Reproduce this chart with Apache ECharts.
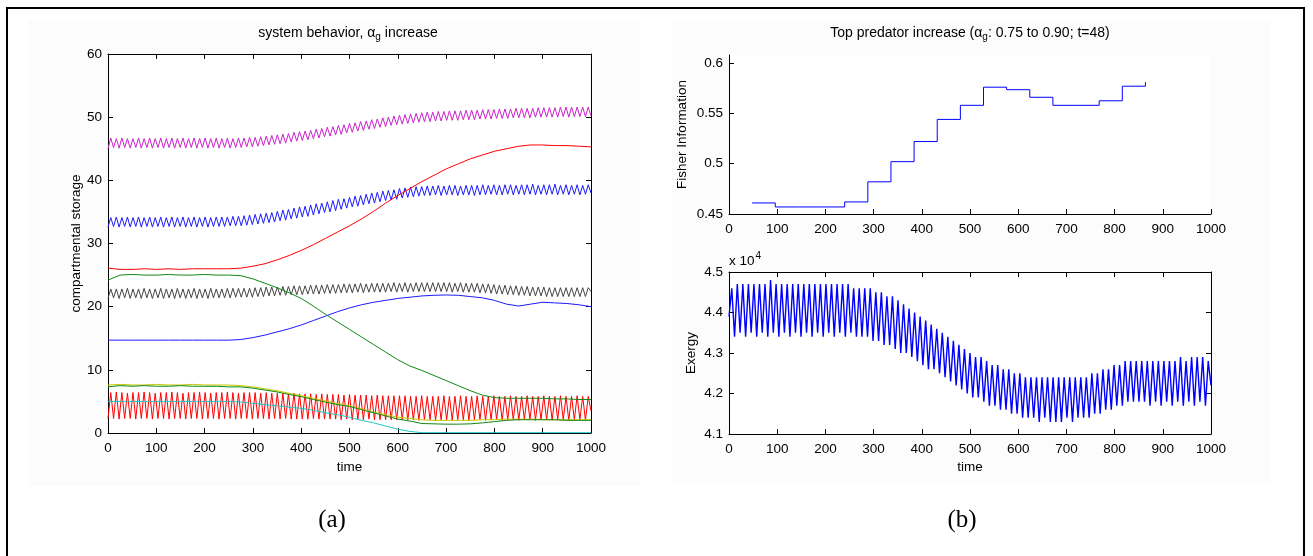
<!DOCTYPE html>
<html>
<head>
<meta charset="utf-8">
<script src="https://cdn.jsdelivr.net/npm/echarts/dist/echarts.min.js"></script>
<style>
  html, body { margin: 0; padding: 0; background: #fff; }
  #main { width: 1313px; height: 556px; }
</style>
</head>
<body>
<div id="main"></div>
<script>
// oscillating series: one value per half cycle, t = i * OSC_STEP (0..1000)
var OSC_STEP = 1000 / 174;

var magenta = [
  45.0,46.7,45.2,46.6,45.1,46.7,45.2,46.6,45.1,46.6,
  45.2,46.7,45.1,46.6,45.2,46.7,45.1,46.6,45.2,46.7,
  45.1,46.6,45.2,46.7,45.1,46.6,45.2,46.7,45.1,46.6,
  45.2,46.7,45.1,46.6,45.2,46.7,45.1,46.6,45.2,46.7,
  45.1,46.6,45.2,46.7,45.1,46.6,45.2,46.7,45.2,46.7,
  45.3,46.8,45.3,46.8,45.4,46.9,45.5,47.0,45.6,47.1,
  45.7,47.2,45.8,47.3,45.9,47.4,46.1,47.6,46.2,47.7,
  46.3,47.8,46.4,47.9,46.6,48.1,46.7,48.2,46.9,48.4,
  47.0,48.5,47.2,48.7,47.3,48.8,47.5,49.0,47.6,49.1,
  47.8,49.3,47.9,49.4,48.1,49.6,48.2,49.7,48.4,49.9,
  48.5,50.0,48.7,50.2,48.8,50.3,48.9,50.4,49.0,50.5,
  49.1,50.6,49.2,50.7,49.3,50.8,49.3,50.8,49.4,50.9,
  49.4,50.9,49.5,51.0,49.5,51.0,49.5,51.0,49.6,51.1,
  49.6,51.1,49.6,51.1,49.7,51.2,49.7,51.2,49.7,51.2,
  49.8,51.3,49.8,51.3,49.8,51.3,49.9,51.4,49.9,51.4,
  49.9,51.4,49.9,51.4,50.0,51.5,50.0,51.5,50.0,51.5,
  50.0,51.5,50.0,51.6,50.1,51.6,50.0,51.6,50.1,51.6,
  50.1,51.6,50.1,51.6,50.2
];

var blueUpper = [
  32.6,34.1,32.7,34.2,32.6,34.1,32.7,34.2,32.6,34.1,
  32.7,34.2,32.6,34.1,32.7,34.2,32.6,34.1,32.7,34.2,
  32.6,34.1,32.7,34.2,32.6,34.1,32.7,34.2,32.6,34.1,
  32.7,34.2,32.6,34.1,32.7,34.2,32.6,34.1,32.7,34.2,
  32.7,34.2,32.7,34.2,32.8,34.3,32.8,34.3,32.8,34.4,
  32.9,34.5,33.0,34.6,33.1,34.7,33.2,34.8,33.3,34.9,
  33.4,35.1,33.6,35.3,33.7,35.4,33.9,35.6,34.0,35.8,
  34.2,35.9,34.3,36.1,34.5,36.3,34.7,36.4,34.9,36.6,
  35.0,36.8,35.2,37.0,35.4,37.1,35.6,37.3,35.8,37.5,
  35.9,37.6,36.1,37.8,36.3,38.0,36.4,38.1,36.6,38.3,
  36.8,38.4,36.9,38.5,37.0,38.7,37.2,38.8,37.3,38.9,
  37.4,39.0,37.5,39.0,37.6,39.1,37.6,39.1,37.7,39.2,
  37.6,39.1,37.7,39.2,37.7,39.2,37.6,39.1,37.7,39.2,
  37.7,39.2,37.6,39.2,37.7,39.3,37.7,39.2,37.8,39.3,
  37.7,39.2,37.7,39.3,37.8,39.3,37.7,39.2,37.8,39.3,
  37.7,39.3,37.8,39.4,37.7,39.2,37.8,39.3,37.7,39.3,
  37.8,39.4,37.7,39.2,37.8,39.3,37.7,39.2,37.8,39.3,
  37.7,39.2,37.8,39.3,38.0
];

var grayLine = [
  21.3,22.8,21.4,22.8,21.3,22.8,21.4,22.9,21.3,22.8,
  21.4,22.8,21.3,22.9,21.4,22.8,21.3,22.8,21.4,22.9,
  21.3,22.8,21.4,22.8,21.3,22.9,21.4,22.8,21.3,22.8,
  21.4,22.9,21.3,22.8,21.4,22.8,21.3,22.9,21.4,22.8,
  21.4,22.8,21.4,22.9,21.4,22.9,21.5,22.9,21.5,22.9,
  21.5,22.9,21.5,23.0,21.6,23.0,21.6,23.1,21.7,23.1,
  21.7,23.1,21.8,23.2,21.8,23.2,21.9,23.3,21.9,23.3,
  21.9,23.3,22.0,23.4,22.0,23.4,22.0,23.4,22.1,23.5,
  22.1,23.5,22.1,23.5,22.2,23.6,22.2,23.6,22.2,23.6,
  22.3,23.7,22.2,23.6,22.3,23.7,22.3,23.7,22.3,23.7,
  22.3,23.7,22.4,23.8,22.3,23.7,22.4,23.8,22.3,23.7,
  22.4,23.8,22.4,23.8,22.4,23.8,22.4,23.8,22.4,23.8,
  22.4,23.8,22.4,23.8,22.3,23.7,22.4,23.8,22.3,23.7,
  22.3,23.7,22.3,23.7,22.2,23.6,22.2,23.6,22.1,23.5,
  22.0,23.4,22.0,23.4,21.9,23.3,21.9,23.3,21.8,23.2,
  21.8,23.2,21.7,23.1,21.7,23.1,21.7,23.1,21.6,23.0,
  21.6,23.0,21.6,23.0,21.6,23.0,21.6,23.0,21.6,23.0,
  21.6,23.0,21.6,23.0,22.4
];

var redLower = [
  2.3,6.4,2.3,6.5,2.2,6.4,2.3,6.3,2.3,6.4,
  2.2,6.4,2.3,6.5,2.3,6.4,2.2,6.3,2.3,6.4,
  2.3,6.4,2.2,6.5,2.3,6.4,2.3,6.3,2.2,6.4,
  2.3,6.4,2.3,6.5,2.2,6.4,2.3,6.3,2.3,6.4,
  2.2,6.4,2.3,6.5,2.3,6.4,2.2,6.3,2.3,6.4,
  2.3,6.4,2.2,6.4,2.3,6.3,2.3,6.4,2.2,6.3,
  2.3,6.3,2.2,6.3,2.3,6.2,2.2,6.3,2.2,6.2,
  2.2,6.2,2.2,6.2,2.3,6.1,2.2,6.2,2.2,6.1,
  2.2,6.1,2.2,6.1,2.1,6.0,2.2,6.1,2.1,6.0,
  2.2,6.0,2.1,6.0,2.2,5.9,2.1,6.0,2.1,5.9,
  2.1,5.9,2.1,5.9,2.1,5.9,2.1,5.9,2.1,5.8,
  2.1,5.8,2.0,5.9,2.1,5.8,2.1,5.8,2.0,5.8,
  2.1,5.9,2.1,5.8,2.0,5.8,2.1,5.9,2.1,5.8,
  2.0,5.8,2.1,5.9,2.1,5.8,2.0,5.8,2.1,5.9,
  2.1,5.8,2.0,5.8,2.1,5.9,2.1,5.8,2.0,5.8,
  2.1,5.9,2.1,5.8,2.0,5.8,2.1,5.9,2.1,5.8,
  2.0,5.8,2.1,5.9,2.1,5.8,2.0,5.8,2.1,5.9,
  2.1,5.8,2.0,5.8,3.5
];

// exergy in units of 1e4
var exergy = [
  4.39,4.46,4.34,4.47,4.35,4.47,4.34,4.47,4.35,4.47,
  4.34,4.47,4.35,4.47,4.34,4.48,4.35,4.47,4.34,4.47,
  4.35,4.47,4.34,4.47,4.35,4.47,4.34,4.47,4.35,4.47,
  4.34,4.47,4.35,4.47,4.34,4.47,4.35,4.47,4.34,4.47,
  4.35,4.47,4.34,4.47,4.35,4.46,4.34,4.46,4.34,4.46,
  4.34,4.46,4.33,4.45,4.33,4.45,4.32,4.44,4.32,4.44,
  4.31,4.43,4.30,4.42,4.30,4.41,4.29,4.40,4.28,4.39,
  4.27,4.38,4.26,4.37,4.26,4.36,4.25,4.35,4.24,4.34,
  4.23,4.33,4.22,4.32,4.21,4.31,4.20,4.30,4.19,4.29,
  4.19,4.29,4.18,4.28,4.17,4.27,4.17,4.27,4.16,4.26,
  4.16,4.26,4.15,4.25,4.15,4.25,4.14,4.24,4.14,4.24,
  4.14,4.24,4.13,4.24,4.14,4.24,4.13,4.24,4.13,4.24,
  4.13,4.24,4.14,4.24,4.13,4.24,4.14,4.24,4.14,4.24,
  4.14,4.25,4.15,4.25,4.15,4.26,4.16,4.26,4.16,4.27,
  4.17,4.27,4.17,4.28,4.18,4.28,4.18,4.28,4.18,4.28,
  4.18,4.28,4.17,4.28,4.18,4.28,4.17,4.28,4.18,4.28,
  4.17,4.28,4.18,4.29,4.17,4.28,4.18,4.29,4.17,4.29,
  4.18,4.29,4.17,4.28,4.22
];

// smooth series: one value every 25 time units (0..1000)
var SMOOTH_STEP = 25;
var redRising = [26.1,25.9,25.9,26.0,25.9,26.0,25.9,26.0,26.0,26.0,26.0,26.1,26.4,26.8,27.4,28.1,28.9,29.8,30.8,31.8,32.8,
  33.9,35.1,36.4,37.6,38.7,39.8,40.8,41.8,42.6,43.4,44.0,44.6,45.0,45.4,45.6,45.6,45.5,45.5,45.4,45.3];
var blueLower = [14.7,14.7,14.7,14.7,14.7,14.7,14.7,14.7,14.7,14.7,14.7,14.8,15.1,15.5,16.0,16.5,17.1,17.8,18.5,19.2,19.8,
  20.3,20.7,21.0,21.3,21.5,21.7,21.8,21.85,21.8,21.6,21.4,21.0,20.4,20.1,20.4,20.7,20.6,20.5,20.3,20.0];
var greenBig = [24.2,25.0,25.1,25.0,25.0,25.1,25.0,25.0,25.1,25.0,25.0,24.9,24.4,23.7,23.0,22.2,21.3,20.1,18.8,17.6,16.4,
  15.2,14.0,12.8,11.6,10.6,9.9,9.1,8.3,7.5,6.7,6.0,5.6,5.5,5.5,5.5,5.5,5.4,5.4,5.3,5.3];
var greenSmall = [7.3,7.5,7.4,7.5,7.4,7.4,7.5,7.4,7.4,7.4,7.3,7.3,7.1,6.8,6.5,6.1,5.75,5.3,4.9,4.5,4.2,
  3.7,3.2,2.7,2.2,1.9,1.5,1.45,1.4,1.4,1.45,1.6,1.8,2.0,2.1,2.1,2.1,2.1,2.0,2.0,2.0];
var yellowLine = [7.6,7.7,7.6,7.6,7.7,7.6,7.6,7.7,7.6,7.6,7.6,7.5,7.3,7.0,6.7,6.3,5.9,5.5,5.1,4.7,4.3,
  3.8,3.3,2.9,2.5,2.3,2.1,2.0,2.0,2.0,2.0,2.1,2.1,2.2,2.2,2.2,2.1,2.1,2.1,2.1,2.1];
var cyanLine = [5.0,5.0,5.0,5.0,5.0,5.0,5.0,5.0,5.0,5.0,5.0,4.9,4.7,4.5,4.3,4.1,3.9,3.6,3.2,2.9,2.5,
  2.0,1.6,1.1,0.6,0.25,0.05,0.05,0.05,0.05,0.05,0.05,0.05,0.05,0.05,0.05,0.05,0.05,0.05,0.05,0.05];

// Fisher information, window end times (t=48 windows)
var fisherT = [48,96,144,192,240,288,336,384,432,480,528,576,624,672,720,768,816,864];
var fisher = [0.461,0.457,0.457,0.457,0.462,0.482,0.502,0.522,0.544,0.558,0.576,0.5735,0.566,0.558,0.558,0.5625,0.577,0.581];

var FONT = 'Liberation Sans, Arial, Helvetica, sans-serif';

function osc(arr) { return arr.map(function (v, i) { return [i * OSC_STEP, v]; }); }
function smooth(arr) { return arr.map(function (v, i) { return [i * SMOOTH_STEP, v]; }); }

function xAx(grid, pos, labels, name) {
  return {
    type: 'value', gridIndex: grid, position: pos, min: 0, max: 1000, interval: 100,
    axisLine: { show: true, onZero: false, lineStyle: { color: '#000', width: 1 } },
    axisTick: { show: true, inside: true, length: 5, lineStyle: { color: '#000' } },
    axisLabel: { show: labels, margin: 8, color: '#000', fontSize: 13.5, fontFamily: FONT,
      formatter: function (v) { return String(Math.round(v)); } },
    splitLine: { show: false },
    name: name || '', nameLocation: 'middle', nameGap: 26,
    nameTextStyle: { color: '#000', fontSize: 13.5, fontFamily: FONT }
  };
}
function yAx(grid, pos, min, max, step, labels, name, gap) {
  return {
    type: 'value', gridIndex: grid, position: pos, min: min, max: max, interval: step,
    axisLine: { show: true, onZero: false, lineStyle: { color: '#000', width: 1 } },
    axisTick: { show: true, inside: true, length: 5, lineStyle: { color: '#000' } },
    axisLabel: { show: labels, margin: 6, color: '#000', fontSize: 13.5, fontFamily: FONT, showMaxLabel: max !== 0.608 },
    splitLine: { show: false },
    name: name || '', nameLocation: 'middle', nameGap: gap || 30, nameRotate: 90,
    nameTextStyle: { color: '#000', fontSize: 13.5, fontFamily: FONT }
  };
}
function line(data, color, xi, yi, step, width) {
  return {
    type: 'line', data: data, xAxisIndex: xi, yAxisIndex: yi, step: step || false,
    showSymbol: false, symbol: 'none', animation: false, silent: true,
    lineStyle: { color: color, width: width || 1 }, itemStyle: { color: color }
  };
}

var chart = echarts.init(document.getElementById('main'));
chart.setOption({
  animation: false,
  backgroundColor: '#fff',
  grid: [
    { left: 108, top: 54, width: 483, height: 379, show: true, backgroundColor: '#fff', borderWidth: 0, outerBoundsMode: 'none' },
    { left: 729, top: 55, width: 482, height: 159, show: true, backgroundColor: '#fff', borderWidth: 0, outerBoundsMode: 'none' },
    { left: 729, top: 272, width: 482, height: 162, show: true, backgroundColor: '#fff', borderWidth: 0, outerBoundsMode: 'none' }
  ],
  xAxis: [
    xAx(0, 'bottom', true, 'time'),
    xAx(0, 'top', false),
    xAx(1, 'bottom', true),
    xAx(2, 'bottom', true, 'time'),
    xAx(2, 'top', false)
  ],
  yAxis: [
    yAx(0, 'left', 0, 60, 10, true, 'compartmental storage', 25),
    yAx(0, 'right', 0, 60, 10, false),
    yAx(1, 'left', 0.45, 0.608, 0.05, true, 'Fisher Information', 40),
    yAx(2, 'left', 4.1, 4.5, 0.1, true, 'Exergy', 31),
    yAx(2, 'right', 4.1, 4.5, 0.1, false)
  ],
  series: [
    line(osc(redLower), '#ff0000', 0, 0),
    line(osc(magenta), '#cc22cc', 0, 0),
    line(osc(blueUpper), '#1a1aff', 0, 0),
    line(osc(grayLine), '#444444', 0, 0),
    line(smooth(redRising), '#ff0000', 0, 0),
    line(smooth(blueLower), '#1a1aff', 0, 0),
    line(smooth(greenBig), '#118811', 0, 0),
    line(smooth(yellowLine), '#c8c800', 0, 0),
    line(smooth(greenSmall), '#118811', 0, 0),
    line(smooth(cyanLine), '#22c4c4', 0, 0),
    line(fisherT.map(function (t, i) { return [t, fisher[i]]; }), '#0000ff', 2, 2, 'end'),
    line(osc(exergy), '#0000ff', 3, 3, false, 1.4)
  ],
  graphic: [
    { type: 'rect', z: -10, shape: { x: 28, y: 20, width: 612, height: 466 }, style: { fill: '#fcfcfc' } },
    { type: 'rect', z: -10, shape: { x: 672, y: 20, width: 598, height: 463 }, style: { fill: '#fcfcfc' } },
    { type: 'polyline', z: 100, shape: { points: [[7, 600], [7, 8], [1304, 8], [1304, 600]] }, style: { stroke: '#000', lineWidth: 2, fill: null } },
    { type: 'text', z: 100, x: 348, y: 33, style: {
        text: '{n|system behavior, α}{s|g}{n| increase}', align: 'center', verticalAlign: 'middle',
        textAlign: 'center', textVerticalAlign: 'middle',
        rich: { n: { fontSize: 14, fontFamily: FONT, fill: '#000', color: '#000' },
                s: { fontSize: 10, fontFamily: FONT, fill: '#000', color: '#000', padding: [8, 0, 0, 0] } } } },
    { type: 'text', z: 100, x: 970, y: 33, style: {
        text: '{n|Top predator increase (α}{s|g}{n|: 0.75 to 0.90; t=48)}', align: 'center', verticalAlign: 'middle',
        textAlign: 'center', textVerticalAlign: 'middle',
        rich: { n: { fontSize: 14, fontFamily: FONT, fill: '#000', color: '#000' },
                s: { fontSize: 10, fontFamily: FONT, fill: '#000', color: '#000', padding: [8, 0, 0, 0] } } } },
    { type: 'text', z: 100, x: 729, y: 261, style: {
        text: '{n|x 10}{p|4}', align: 'left', verticalAlign: 'middle',
        textAlign: 'left', textVerticalAlign: 'middle',
        rich: { n: { fontSize: 13.5, fontFamily: FONT, fill: '#000', color: '#000' },
                p: { fontSize: 10, fontFamily: FONT, fill: '#000', color: '#000', padding: [0, 0, 9, 1] } } } },
    { type: 'text', z: 100, x: 332, y: 520, style: { text: '(a)', font: '25px "Liberation Serif", "Times New Roman", serif', fill: '#000', align: 'center', verticalAlign: 'middle', textAlign: 'center', textVerticalAlign: 'middle' } },
    { type: 'text', z: 100, x: 962, y: 520, style: { text: '(b)', font: '25px "Liberation Serif", "Times New Roman", serif', fill: '#000', align: 'center', verticalAlign: 'middle', textAlign: 'center', textVerticalAlign: 'middle' } }
  ]
});
</script>
</body>
</html>
